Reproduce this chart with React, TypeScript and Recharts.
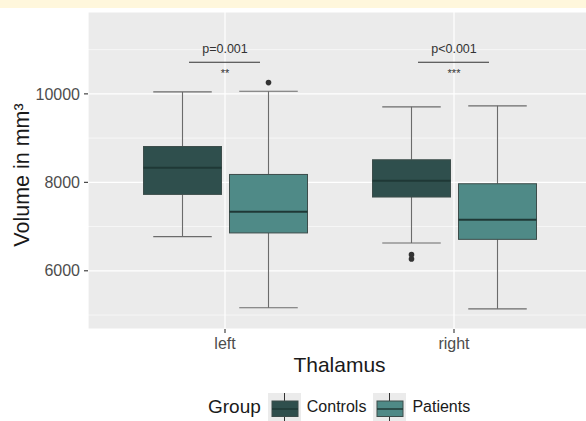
import { Bar, CartesianGrid, ComposedChart, ReferenceDot, XAxis, YAxis } from "recharts";

// Thalamus volume (mm³) per side and group
const CATEGORIES = ["left", "right"];

const CONTROLS_LOW = [6772, 6630];
const CONTROLS_Q1 = [7727, 7668];
const CONTROLS_MEDIAN = [8330, 8036];
const CONTROLS_Q3 = [8810, 8510];
const CONTROLS_HIGH = [10045, 9707];
const CONTROLS_OUTLIERS = [[], [6365, 6268]];

const PATIENTS_LOW = [5163, 5140];
const PATIENTS_Q1 = [6856, 6711];
const PATIENTS_MEDIAN = [7336, 7156];
const PATIENTS_Q3 = [8178, 7968];
const PATIENTS_HIGH = [10060, 9729];
const PATIENTS_OUTLIERS = [[10255], []];

const P_LABELS = ["p=0.001", "p<0.001"];
const STARS = ["**", "***"];
const BRACKET_Y = [10716, 10716];

const Y_DOMAIN = [4684, 11851];
const Y_TICKS = [6000, 8000, 10000];
const Y_MINOR = [5000, 7000, 9000, 11000];

const CONTROLS_FILL = "#2f4f4d";
const PATIENTS_FILL = "#4f8a87";
const FONT = "'Liberation Sans', Arial, Helvetica, sans-serif";

type Stats = { low: number; q1: number; median: number; q3: number; high: number; outliers: number[] };

const data = CATEGORIES.map((name, i) => ({
  name,
  controls: {
    low: CONTROLS_LOW[i],
    q1: CONTROLS_Q1[i],
    median: CONTROLS_MEDIAN[i],
    q3: CONTROLS_Q3[i],
    high: CONTROLS_HIGH[i],
    outliers: CONTROLS_OUTLIERS[i],
  },
  patients: {
    low: PATIENTS_LOW[i],
    q1: PATIENTS_Q1[i],
    median: PATIENTS_MEDIAN[i],
    q3: PATIENTS_Q3[i],
    high: PATIENTS_HIGH[i],
    outliers: PATIENTS_OUTLIERS[i],
  },
  controlsRange: [CONTROLS_LOW[i], CONTROLS_HIGH[i]],
  patientsRange: [PATIENTS_LOW[i], PATIENTS_HIGH[i]],
}));

/** The bar spans low..high whisker; inner stats are placed on the same linear scale. */
function BoxShape(props: any) {
  const { x, y, width, height, stats, fill } = props as {
    x: number;
    y: number;
    width: number;
    height: number;
    stats: Stats;
    fill: string;
  };
  const top = Math.min(y, y + height);
  const h = Math.abs(height);
  const px = (v: number) => top + ((stats.high - v) / (stats.high - stats.low)) * h;
  const cx = x + width / 2;
  const cap = width * 0.375;
  const whisker = "#6b6b6b";
  return (
    <g>
      <line x1={cx} x2={cx} y1={px(stats.high)} y2={px(stats.q3)} stroke={whisker} strokeWidth={1.1} />
      <line x1={cx} x2={cx} y1={px(stats.q1)} y2={px(stats.low)} stroke={whisker} strokeWidth={1.1} />
      <line x1={cx - cap} x2={cx + cap} y1={px(stats.high)} y2={px(stats.high)} stroke={whisker} strokeWidth={1.1} />
      <line x1={cx - cap} x2={cx + cap} y1={px(stats.low)} y2={px(stats.low)} stroke={whisker} strokeWidth={1.1} />
      <rect
        x={x}
        y={px(stats.q3)}
        width={width}
        height={px(stats.q1) - px(stats.q3)}
        fill={fill}
        stroke="#3d4d4b"
        strokeWidth={1}
      />
      <line x1={x} x2={x + width} y1={px(stats.median)} y2={px(stats.median)} stroke="#1f3836" strokeWidth={2} />
      {stats.outliers.map((v, i) => (
        <circle key={i} cx={cx} cy={px(v)} r={2.8} fill="#333" />
      ))}
    </g>
  );
}

function Bracket({ cx, cy, label, stars }: { cx?: number; cy?: number; label: string; stars: string }) {
  if (cx == null || cy == null) return null;
  return (
    <g>
      <line x1={cx - 36} x2={cx + 35} y1={cy} y2={cy} stroke="#333" strokeWidth={1.1} />
      <text x={cx} y={cy - 9} textAnchor="middle" fontSize={12.5} fill="#333">
        {label}
      </text>
      <text x={cx} y={cy + 15} textAnchor="middle" fontSize={11} fill="#333">
        {stars}
      </text>
    </g>
  );
}

function LegendKey({ fill }: { fill: string }) {
  return (
    <svg width={33} height={28} style={{ display: "block" }}>
      <rect x={0} y={0} width={33} height={28} fill="#ebebeb" />
      <line x1={16.5} x2={16.5} y1={0} y2={28} stroke="#333" strokeWidth={1} />
      <rect x={4} y={8} width={26} height={15.5} fill={fill} stroke="#3d4d4b" strokeWidth={1} />
      <line x1={4} x2={30} y1={16} y2={16} stroke="#1f3836" strokeWidth={1.5} />
    </svg>
  );
}

export default function App() {
  return (
    <div
      style={{
        position: "fixed",
        left: 0,
        top: 0,
        width: 586,
        height: 421,
        overflow: "hidden",
        background: "#fff",
        fontFamily: FONT,
      }}
    >
      <div style={{ position: "absolute", left: 0, top: 0, width: 586, height: 8, background: "#fff7dc" }} />
      <div style={{ position: "absolute", left: 0, top: 0 }}>
        <ComposedChart
          width={591}
          height={380}
          data={data}
          margin={{ top: 12, right: 0, bottom: 0, left: 0 }}
          barSize={78}
          barGap={8}
          style={{ fontFamily: FONT }}
        >
          <CartesianGrid fill="#ebebeb" fillOpacity={1} stroke="#ffffff" strokeWidth={1.2} />
          <CartesianGrid vertical={false} horizontalValues={Y_MINOR} stroke="#ffffff" strokeWidth={0.6} />
          <XAxis
            dataKey="name"
            padding={{ left: 22.5, right: 22.5 }}
            axisLine={false}
            tickLine={{ stroke: "#333", strokeWidth: 1.1 }}
            tickSize={4}
            tickMargin={5}
            tick={{ fill: "#4d4d4d", fontSize: 16 }}
            height={51}
            label={{ value: "Thalamus", position: "insideBottom", offset: 8, fill: "#1a1a1a", fontSize: 21 }}
          />
          <YAxis
            type="number"
            domain={Y_DOMAIN}
            ticks={Y_TICKS}
            allowDataOverflow
            width={88}
            axisLine={false}
            tickLine={{ stroke: "#333", strokeWidth: 1.1 }}
            tickSize={4}
            tickMargin={4}
            tick={{ fill: "#4d4d4d", fontSize: 16 }}
            label={{
              content: () => (
                <text
                  transform="translate(28.5,175) rotate(-90)"
                  textAnchor="middle"
                  fontSize={21.5}
                  fill="#1a1a1a"
                >
                  Volume in mm³
                </text>
              ),
            }}
          />
          <Bar
            dataKey="controlsRange"
            isAnimationActive={false}
            fill={CONTROLS_FILL}
            shape={(p: any) => <BoxShape {...p} stats={p.payload.controls} fill={CONTROLS_FILL} />}
          />
          <Bar
            dataKey="patientsRange"
            isAnimationActive={false}
            fill={PATIENTS_FILL}
            shape={(p: any) => <BoxShape {...p} stats={p.payload.patients} fill={PATIENTS_FILL} />}
          />
          {CATEGORIES.map((c, i) => (
            <ReferenceDot
              key={c}
              x={c}
              y={BRACKET_Y[i]}
              r={0}
              shape={(p: any) => <Bracket cx={p.cx} cy={p.cy} label={P_LABELS[i]} stars={STARS[i]} />}
            />
          ))}
        </ComposedChart>
      </div>
      <div
        style={{
          position: "absolute",
          left: 208,
          top: 393,
          display: "flex",
          alignItems: "center",
          height: 28,
          color: "#1a1a1a",
        }}
      >
        <span style={{ fontSize: 19, marginRight: 7 }}>Group</span>
        <LegendKey fill={CONTROLS_FILL} />
        <span style={{ fontSize: 16, marginLeft: 6, marginRight: 7 }}>Controls</span>
        <LegendKey fill={PATIENTS_FILL} />
        <span style={{ fontSize: 16, marginLeft: 6 }}>Patients</span>
      </div>
    </div>
  );
}
